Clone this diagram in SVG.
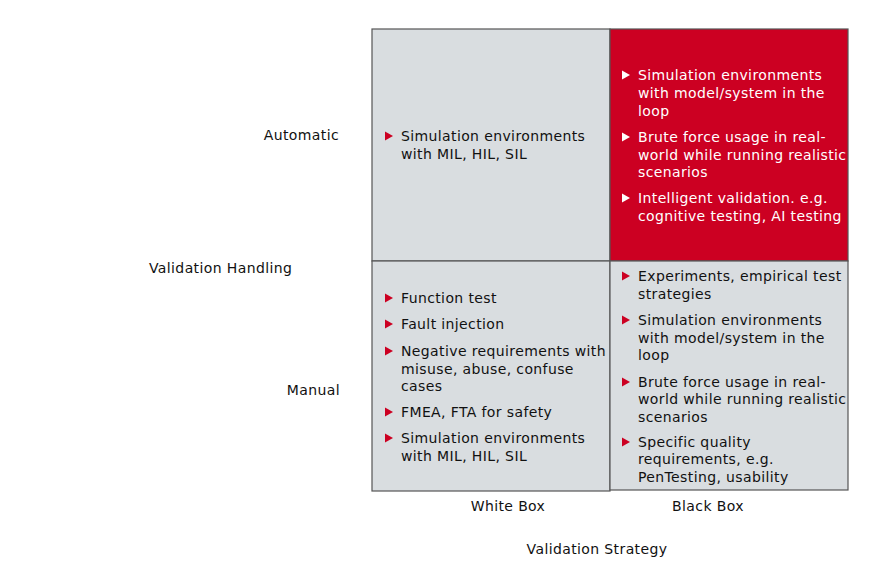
<svg xmlns="http://www.w3.org/2000/svg" width="891" height="571" viewBox="0 0 891 571">
<style>
text{font-family:"DejaVu Sans",Verdana,sans-serif;font-size:14px;letter-spacing:0.38px;fill:#111}
.w{fill:#fff}
.g{fill:#d9dde0;stroke:#555;stroke-width:1.2}
.r{fill:#cc0022;stroke:#555;stroke-width:1.2}
.br{fill:#cc0022}
.bw{fill:#fff}
</style>
<defs>
<path id="tri" d="M0,-4.5 L8,0 L0,4.5 Z"/>
</defs>
<rect width="891" height="571" fill="#fff"/>
<g id="labels">
<text x="339" y="140" text-anchor="end">Automatic</text>
<text x="149" y="273">Validation Handling</text>
<text x="340" y="395" text-anchor="end">Manual</text>
<text x="508" y="511" text-anchor="middle">White Box</text>
<text x="708" y="511" text-anchor="middle">Black Box</text>
<text x="597" y="554" text-anchor="middle">Validation Strategy</text>
</g>
<g id="q-auto-white">
<rect class="g" x="372" y="29" width="238" height="232"/>
<use href="#tri" class="br" x="385" y="136"/>
<text x="401" y="141">Simulation environments</text>
<text x="401" y="159">with MIL, HIL, SIL</text>
</g>
<g id="q-auto-black">
<rect class="r" x="610" y="29" width="238" height="232"/>
<use href="#tri" class="bw" x="622" y="75"/>
<text class="w" x="638" y="80">Simulation environments</text>
<text class="w" x="638" y="98">with model/system in the</text>
<text class="w" x="638" y="116">loop</text>
<use href="#tri" class="bw" x="622" y="137"/>
<text class="w" x="638" y="142">Brute force usage in real-</text>
<text class="w" x="638" y="160">world while running realistic</text>
<text class="w" x="638" y="177">scenarios</text>
<use href="#tri" class="bw" x="622" y="198"/>
<text class="w" x="638" y="203">Intelligent validation. e.g.</text>
<text class="w" x="638" y="221">cognitive testing, AI testing</text>
</g>
<g id="q-manual-white">
<rect class="g" x="372" y="261" width="238" height="230"/>
<use href="#tri" class="br" x="385" y="298"/>
<text x="401" y="303">Function test</text>
<use href="#tri" class="br" x="385" y="324"/>
<text x="401" y="329">Fault injection</text>
<use href="#tri" class="br" x="385" y="351"/>
<text x="401" y="356">Negative requirements with</text>
<text x="401" y="374">misuse, abuse, confuse</text>
<text x="401" y="391">cases</text>
<use href="#tri" class="br" x="385" y="412"/>
<text x="401" y="417">FMEA, FTA for safety</text>
<use href="#tri" class="br" x="385" y="438"/>
<text x="401" y="443">Simulation environments</text>
<text x="401" y="461">with MIL, HIL, SIL</text>
</g>
<g id="q-manual-black">
<rect class="g" x="610" y="261" width="238" height="229"/>
<use href="#tri" class="br" x="622" y="276"/>
<text x="638" y="281">Experiments, empirical test</text>
<text x="638" y="299">strategies</text>
<use href="#tri" class="br" x="622" y="320"/>
<text x="638" y="325">Simulation environments</text>
<text x="638" y="343">with model/system in the</text>
<text x="638" y="360">loop</text>
<use href="#tri" class="br" x="622" y="382"/>
<text x="638" y="387">Brute force usage in real-</text>
<text x="638" y="404">world while running realistic</text>
<text x="638" y="422">scenarios</text>
<use href="#tri" class="br" x="622" y="442"/>
<text x="638" y="447">Specific quality</text>
<text x="638" y="464">requirements, e.g.</text>
<text x="638" y="482">PenTesting, usability</text>
</g>
<g id="connectors"></g>
</svg>
